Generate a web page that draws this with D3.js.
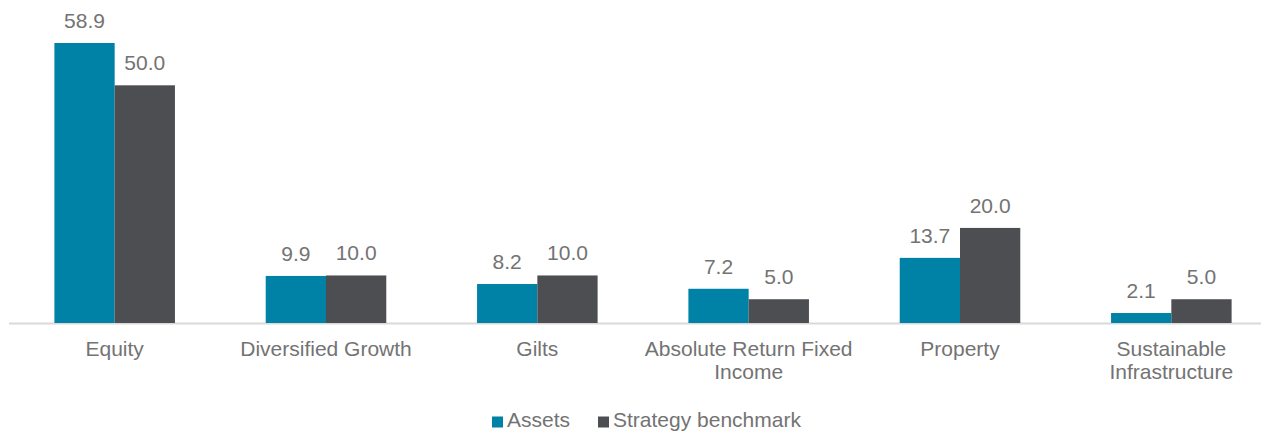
<!DOCTYPE html>
<html>
<head>
<meta charset="utf-8">
<script src="https://cdn.jsdelivr.net/npm/d3@7"></script>
<style>
    body { margin: 0; background: #fff; }
    svg text { font-family: "Liberation Sans", Arial, sans-serif; fill: #737373; }
</style>
</head>
<body>
<div id="chart"></div>
<script>
// chart data
const categories = ["Equity", "Diversified Growth", "Gilts", "Absolute Return Fixed Income", "Property", "Sustainable Infrastructure"];
const categoryLines = [["Equity"], ["Diversified Growth"], ["Gilts"], ["Absolute Return Fixed", "Income"], ["Property"], ["Sustainable", "Infrastructure"]];
const seriesNames = ["Assets", "Strategy benchmark"];
const assets = [58.9, 9.9, 8.2, 7.2, 13.7, 2.1];
const benchmark = [50.0, 10.0, 10.0, 5.0, 20.0, 5.0];
const colors = ["#0082a6", "#4d4e52"];

const width = 1261, height = 433;
const baseline = 323, topY = 43;
const fontSize = 21;

const svg = d3.select("#chart").append("svg")
    .attr("width", width)
    .attr("height", height);

// scales
const x0 = d3.scaleBand()
    .domain(categories)
    .range([9, 1277]);

const x1 = d3.scaleBand()
    .domain(seriesNames)
    .range([0, x0.bandwidth()])
    .paddingOuter(0.753);

const y = d3.scaleLinear()
    .domain([0, 58.9])
    .range([baseline, topY]);

const rows = categories.map((c, i) => ({
    category: c,
    values: [
        { series: seriesNames[0], value: assets[i] },
        { series: seriesNames[1], value: benchmark[i] }
    ]
}));

// axis line
svg.append("line")
    .attr("x1", 9).attr("x2", width)
    .attr("y1", baseline + 0.5).attr("y2", baseline + 0.5)
    .attr("stroke", "#d9d9d9")
    .attr("stroke-width", 2);

const groups = svg.append("g")
    .selectAll("g")
    .data(rows)
    .enter()
    .append("g")
    .attr("transform", d => `translate(${x0(d.category)},0)`);

groups.selectAll("rect")
    .data(d => d.values)
    .enter()
    .append("rect")
    .attr("x", d => x1(d.series))
    .attr("width", x1.bandwidth())
    .attr("y", d => y(d.value))
    .attr("height", d => baseline - y(d.value))
    .attr("fill", (d, i) => colors[i]);

groups.selectAll("text.value")
    .data(d => d.values)
    .enter()
    .append("text")
    .attr("class", "value")
    .attr("x", d => x1(d.series) + x1.bandwidth() / 2)
    .attr("y", d => y(d.value) - 15)
    .attr("text-anchor", "middle")
    .style("font-size", fontSize + "px")
    .text(d => d.value.toFixed(1));

// category labels
const labels = svg.append("g")
    .selectAll("text")
    .data(categories)
    .enter()
    .append("text")
    .attr("x", d => x0(d) + x0.bandwidth() / 2)
    .attr("y", 356)
    .attr("text-anchor", "middle")
    .style("font-size", fontSize + "px");

labels.selectAll("tspan")
    .data((d, i) => categoryLines[i])
    .enter()
    .append("tspan")
    .attr("x", function() { return this.parentNode.getAttribute("x"); })
    .attr("dy", (d, i) => i === 0 ? 0 : 22.5)
    .text(d => d);

// legend
const legendItems = [
    { name: seriesNames[0], color: colors[0], x: 492 },
    { name: seriesNames[1], color: colors[1], x: 598 }
];

const legend = svg.append("g")
    .selectAll("g")
    .data(legendItems)
    .enter()
    .append("g")
    .attr("transform", d => `translate(${d.x},416.5)`);

legend.append("rect")
    .attr("width", 11)
    .attr("height", 11)
    .attr("fill", d => d.color);

legend.append("text")
    .attr("x", 15)
    .attr("y", 10.5)
    .style("font-size", fontSize + "px")
    .text(d => d.name);
</script>
</body>
</html>
